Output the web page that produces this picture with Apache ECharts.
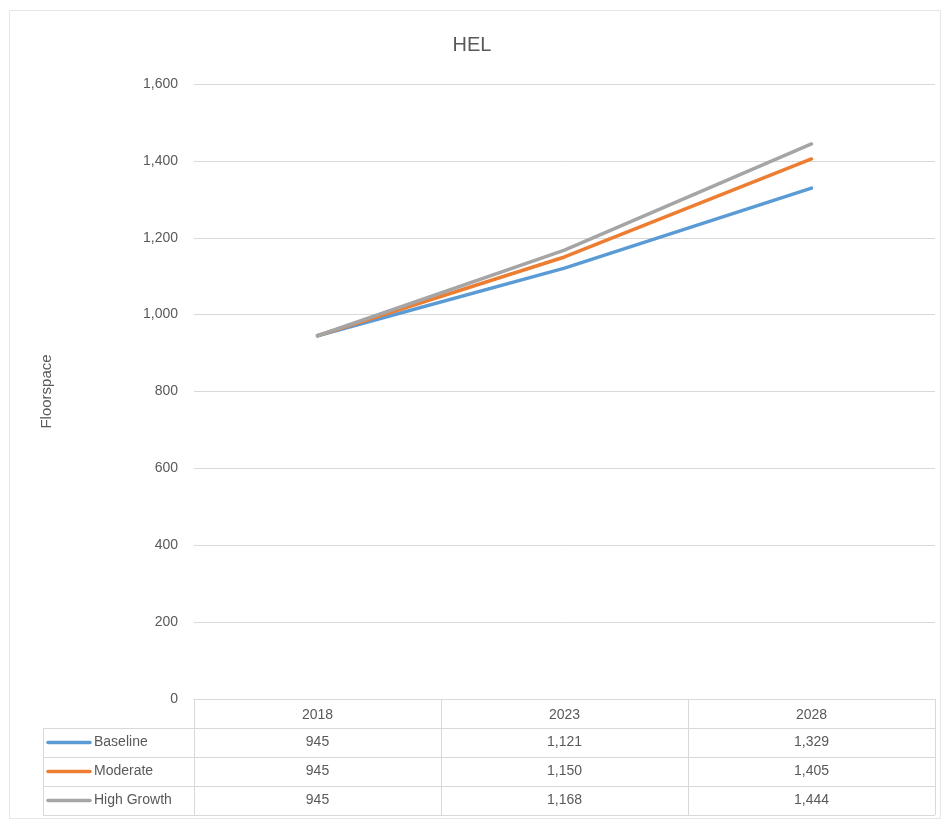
<!DOCTYPE html>
<html>
<head>
<meta charset="utf-8">
<script src="https://cdn.jsdelivr.net/npm/echarts@6/dist/echarts.min.js"></script>
<style>html,body{margin:0;padding:0;background:#fff}#c{width:944px;height:821px}</style>
</head>
<body>
<div id="c"></div>
<script>
const categories = ['2018', '2023', '2028'];
const seriesNames = ['Baseline', 'Moderate', 'High Growth'];
const baseline = [945, 1121, 1329];
const moderate = [945, 1150, 1405];
const highGrowth = [945, 1168, 1444];
const yTicks = [0, 200, 400, 600, 800, 1000, 1200, 1400, 1600];
const colors = ['#5B9BD5', '#ED7D31', '#A5A5A5'];

const FONT = '"Liberation Sans", "Open Sans", sans-serif';
const TXT = '#595959';
const GRIDC = '#d9d9d9';
const allData = [baseline, moderate, highGrowth];
const fmt = v => v.toLocaleString('en-US');

const chart = echarts.init(document.getElementById('c'), null, {renderer: 'canvas'});
const option = {
  backgroundColor: '#fff',
  animation: false,
  title: {
    text: 'HEL', left: 'center', top: 30,
    textStyle: {fontFamily: FONT, fontSize: 20, fontWeight: 'normal', color: TXT}
  },
  grid: {left: 194, right: 9, top: 84, bottom: 122, containLabel: false},
  xAxis: {
    type: 'category', data: categories, boundaryGap: true,
    axisLine: {show: true, lineStyle: {color: GRIDC}},
    axisTick: {show: false},
    axisLabel: {margin: 9, fontFamily: FONT, fontSize: 14, color: TXT}
  },
  yAxis: {
    type: 'value', min: yTicks[0], max: yTicks[yTicks.length - 1], interval: yTicks[1] - yTicks[0],
    name: 'Floorspace', nameLocation: 'middle', nameGap: 140, nameRotate: 90,
    nameTextStyle: {fontFamily: FONT, fontSize: 15, color: TXT},
    axisLine: {show: false}, axisTick: {show: false},
    axisLabel: {margin: 16, fontFamily: FONT, fontSize: 14, color: TXT, formatter: v => fmt(v)},
    splitLine: {lineStyle: {color: GRIDC, width: 1}}
  },
  series: seriesNames.map((n, i) => ({
    name: n, type: 'line', data: allData[i], symbol: 'none',
    lineStyle: {color: colors[i], width: 3.5, cap: 'round'}, color: colors[i],
    z: 2 + i
  }))
};
chart.setOption(option);

// Data table drawn below the axis
function buildTable() {
  const g = [];
  const yTop = chart.convertToPixel({yAxisIndex: 0}, 0);
  const rowH = 29;
  const xs = categories.map(c => chart.convertToPixel({xAxisIndex: 0}, c));
  const colW = xs.length > 1 ? xs[1] - xs[0] : 247;
  const xLeftPlot = xs[0] - colW / 2;
  const xRight = xs[xs.length - 1] + colW / 2;
  const xTableLeft = 43;
  const line = (x1, y1, x2, y2) => ({type: 'line', shape: {x1, y1, x2, y2}, style: {stroke: GRIDC, lineWidth: 1}, silent: true});
  // vertical lines for columns
  for (let k = 0; k <= categories.length; k++) {
    const x = Math.round(xLeftPlot + k * colW) + 0.5;
    g.push(line(x, yTop, x, yTop + rowH * (seriesNames.length + 1)));
  }
  g.push(line(xTableLeft + 0.5, yTop + rowH, xTableLeft + 0.5, yTop + rowH * (seriesNames.length + 1)));
  for (let r = 1; r <= seriesNames.length + 1; r++) {
    const y = Math.round(yTop + r * rowH) + 0.5;
    g.push(line(xTableLeft, y, xRight, y));
  }
  seriesNames.forEach((n, i) => {
    const cy = yTop + rowH * (i + 1) + rowH / 2;
    g.push({type: 'line', shape: {x1: 48, y1: cy, x2: 90, y2: cy}, style: {stroke: colors[i], lineWidth: 3.5, lineCap: 'round'}, silent: true});
    g.push({type: 'text', x: 94, y: cy, style: {text: n, font: '14px ' + FONT, fill: TXT, textVerticalAlign: 'middle', verticalAlign: 'middle'}, silent: true});
    allData[i].forEach((v, j) => {
      g.push({type: 'text', x: xs[j], y: cy, style: {text: fmt(v), font: '14px ' + FONT, fill: TXT, textAlign: 'center', align: 'center', textVerticalAlign: 'middle', verticalAlign: 'middle'}, silent: true});
    });
  });
  // outer chart border
  g.push({type: 'rect', shape: {x: 9.5, y: 10.5, width: 931, height: 808}, style: {fill: 'none', stroke: '#e6e6e6', lineWidth: 1}, silent: true, z: -1});
  chart.setOption({graphic: g});
}
buildTable();
</script>
</body>
</html>
